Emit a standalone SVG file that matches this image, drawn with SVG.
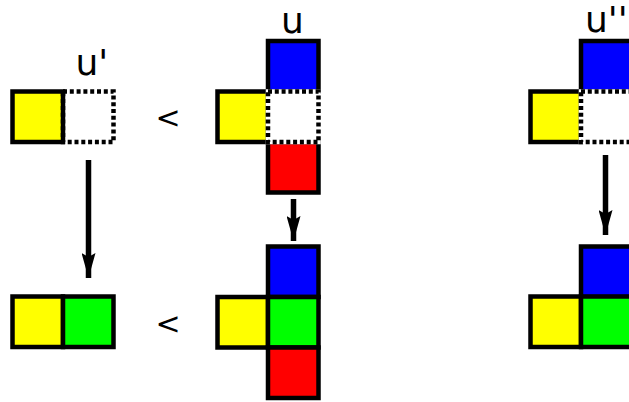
<svg xmlns="http://www.w3.org/2000/svg" width="629" height="402" viewBox="0 0 629 402">
  <style>
    .cell { stroke: #000; stroke-width: 4.5; }
    .y { fill: #ffff00; }
    .g { fill: #00ff00; }
    .b { fill: #0000ff; }
    .r { fill: #ff0000; }
    .hole-bg { fill: #fff; stroke: #fff; stroke-width: 4.5; }
    .hole { fill: none; stroke: #000; stroke-width: 4.5; stroke-dasharray: 4 2.8; }
    .name { font-family: "DejaVu Sans", "Liberation Sans", sans-serif; font-size: 36px; fill: #000; }
    .rel { font-family: "DejaVu Sans", "Liberation Sans", sans-serif; font-size: 30px; fill: #000; text-anchor: middle; }
    .arrow { stroke: #000; stroke-width: 5.5; fill: none; marker-end: url(#head); }
  </style>
  <defs>
    <marker id="head" viewBox="0 0 25 14" refX="25" refY="7" markerWidth="25" markerHeight="14" markerUnits="userSpaceOnUse" orient="auto">
      <path d="M0,0 L25,7 L0,14 L4,7 Z" fill="#000"/>
    </marker>
  </defs>
  <rect width="629" height="402" fill="#fff"/>

  <!-- u' : yellow cell with an empty slot on its right -->
  <g id="u-prime">
    <rect class="cell y" x="12.5" y="91.5" width="50.5" height="50.5"/>
    <rect class="hole" x="63" y="91.5" width="50.5" height="50.5"/>
    <text class="name" x="75.5" y="75">u'</text>
  </g>

  <!-- u : plus shape with empty centre -->
  <g id="u">
    <rect class="cell b" x="268" y="41" width="50.5" height="50.5"/>
    <rect class="cell y" x="217.5" y="91.5" width="50.5" height="50.5"/>
    <rect class="cell r" x="268" y="142" width="50.5" height="50.5"/>
    <rect class="hole-bg" x="268" y="91.5" width="50.5" height="50.5"/>
    <rect class="hole" x="268" y="91.5" width="50.5" height="50.5"/>
    <text class="name" x="281" y="32.5">u</text>
  </g>

  <!-- u'' : corner shape with empty slot -->
  <g id="u-double-prime">
    <rect class="cell b" x="581" y="41" width="50.5" height="50.5"/>
    <rect class="cell y" x="530.5" y="91.5" width="50.5" height="50.5"/>
    <rect class="hole-bg" x="581" y="91.5" width="50.5" height="50.5"/>
    <rect class="hole" x="581" y="91.5" width="50.5" height="50.5"/>
    <text class="name" x="585" y="31.5">u''</text>
  </g>

  <!-- filled results -->
  <g id="u-prime-filled">
    <rect class="cell y" x="12.5" y="296.5" width="50.5" height="50.5"/>
    <rect class="cell g" x="63" y="296.5" width="50.5" height="50.5"/>
  </g>

  <g id="u-filled">
    <rect class="cell b" x="268" y="246.5" width="50.5" height="50.5"/>
    <rect class="cell y" x="217.5" y="297" width="50.5" height="50.5"/>
    <rect class="cell g" x="268" y="297" width="50.5" height="50.5"/>
    <rect class="cell r" x="268" y="347.5" width="50.5" height="50.5"/>
  </g>

  <g id="u-double-prime-filled">
    <rect class="cell b" x="581" y="246.5" width="50.5" height="50.5"/>
    <rect class="cell y" x="530.5" y="296.5" width="50.5" height="50.5"/>
    <rect class="cell g" x="581" y="296.5" width="50.5" height="50.5"/>
  </g>

  <!-- order relations -->
  <g id="order-top"><text class="rel" x="168" y="128">&lt;</text></g>
  <g id="order-bottom"><text class="rel" x="168" y="334">&lt;</text></g>

  <!-- connectors -->
  <g id="connectors">
    <path class="arrow" d="M88.5,160 V278"/>
    <path class="arrow" d="M293.5,199 V241"/>
    <path class="arrow" d="M605.5,155 V235"/>
  </g>
</svg>
